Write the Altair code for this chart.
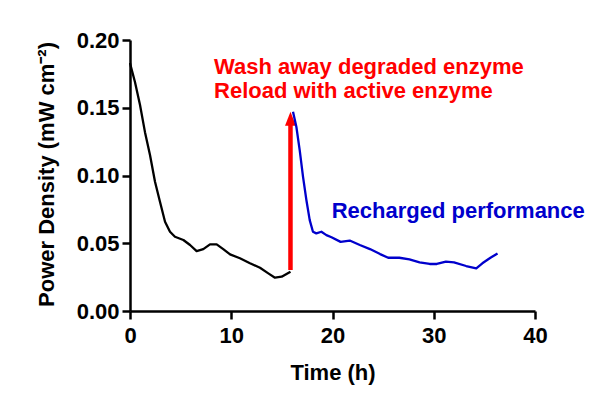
import altair as alt
import pandas as pd

# Series 1: original enzyme (black)
t_orig = [0.0, 0.1, 0.49, 0.99, 1.48, 1.98, 2.47, 2.96, 3.46, 3.95, 4.44, 5.27, 5.93,
          6.58, 7.24, 7.9, 8.56, 9.21, 9.88, 10.86, 11.85, 12.84, 13.66, 14.32, 14.98, 15.85]
p_orig = [0.183, 0.180, 0.169, 0.152, 0.132, 0.115, 0.0954, 0.0806, 0.0659, 0.0585, 0.0548,
          0.0524, 0.0487, 0.0442, 0.0457, 0.0492, 0.0492, 0.0457, 0.0418, 0.0389, 0.0352,
          0.0319, 0.0278, 0.0246, 0.0253, 0.0290]

# Series 2: recharged (blue)
t_rech = [16.1, 16.43, 16.76, 17.09, 17.42, 17.75, 18.07, 18.4, 18.9, 19.4, 19.9, 20.8,
          21.7, 22.7, 23.7, 24.7, 25.5, 26.6, 27.6, 28.6, 29.6, 30.3, 31.2, 32.0, 33.2,
          34.2, 34.8, 35.6, 36.3]
p_rech = [0.147, 0.136, 0.1187, 0.099, 0.0819, 0.0671, 0.0585, 0.0573, 0.0585, 0.056,
          0.0544, 0.051, 0.052, 0.0487, 0.0457, 0.042, 0.0393, 0.0393, 0.0381, 0.0359,
          0.0347, 0.0347, 0.0364, 0.0359, 0.0332, 0.0315, 0.0352, 0.0393, 0.0425]

# Arrow (reload event)
arrow_t = [15.85]
arrow_from = [0.0302]
arrow_to = [0.147]

# Annotations
ann_text = ["Wash away degraded enzyme", "Reload with active enzyme", "Recharged performance"]
ann_t = [8.3, 8.3, 19.92]
ann_p = [0.1752, 0.1574, 0.0684]
ann_color = ["#FF0000", "#FF0000", "#0000CC"]

x_ticks = [0, 10, 20, 30, 40]
y_ticks = [0.0, 0.05, 0.10, 0.15, 0.20]

FONT = "Liberation Sans"

lines = pd.DataFrame(
    {"t": t_orig + t_rech,
     "p": p_orig + p_rech,
     "series": ["original"] * len(t_orig) + ["recharged"] * len(t_rech)}
)
arrow = pd.DataFrame({"t": arrow_t, "p0": arrow_from, "p1": arrow_to})
ann = pd.DataFrame({"t": ann_t, "p": ann_p, "text": ann_text, "color": ann_color})

xscale = alt.Scale(domain=[0, 40], nice=False, zero=False)
yscale = alt.Scale(domain=[0, 0.2], nice=False)

xaxis = alt.Axis(values=x_ticks, format="d", title="Time (h)", grid=False,
                 domainColor="black", domainWidth=2.5, tickColor="black", tickWidth=2.5,
                 tickSize=8, labelPadding=6, labelFont=FONT, labelFontWeight="bold",
                 labelFontSize=22, labelColor="black", titleFont=FONT, titleFontWeight="bold",
                 titleFontSize=22, titleColor="black", titleBaseline="alphabetic", titleY=68,
                 labelFlush=False)
yaxis = alt.Axis(values=y_ticks, format=".2f", title="Power Density (mW cm⁻²)", grid=False,
                 domainColor="black", domainWidth=2.5, tickColor="black", tickWidth=2.5,
                 tickSize=8, labelPadding=3, labelFont=FONT, labelFontWeight="bold",
                 labelFontSize=22, labelColor="black", titleFont=FONT, titleFontWeight="bold",
                 titleFontSize=22, titleColor="black", titleBaseline="alphabetic",
                 titleX=-77, titleY=134, titleAngle=270, labelFlush=False)

line = alt.Chart(lines).mark_line(strokeWidth=2.3, strokeJoin="round").encode(
    x=alt.X("t:Q", scale=xscale, axis=xaxis),
    y=alt.Y("p:Q", scale=yscale, axis=yaxis),
    color=alt.Color("series:N", scale=alt.Scale(domain=["original", "recharged"],
                                                range=["#000000", "#0000CC"]), legend=None),
)

shaft = alt.Chart(arrow).mark_rule(color="#FF0000", strokeWidth=4.5, y2Offset=12).encode(
    x="t:Q", y="p0:Q", y2="p1:Q"
)
head = alt.Chart(arrow).mark_point(
    shape="M0,-1L0.78,1L-0.78,1Z", size=196, filled=True, color="#FF0000", opacity=1,
    yOffset=7, strokeWidth=0
).encode(x="t:Q", y="p1:Q")

texts = alt.Chart(ann).mark_text(
    align="left", baseline="alphabetic", font=FONT, fontWeight="bold", fontSize=22
).encode(x="t:Q", y="p:Q", text="text:N", color=alt.Color("color:N", scale=None))

chart = alt.layer(shaft, head, line, texts).properties(
    width=405, height=271,
    autosize=alt.AutoSizeParams(type="none"),
    padding={"left": 130, "top": 40, "right": 56, "bottom": 85},
    background="white",
).configure_view(stroke=None)

chart.save("out.html", embed_options={"renderer": "svg", "actions": False})
